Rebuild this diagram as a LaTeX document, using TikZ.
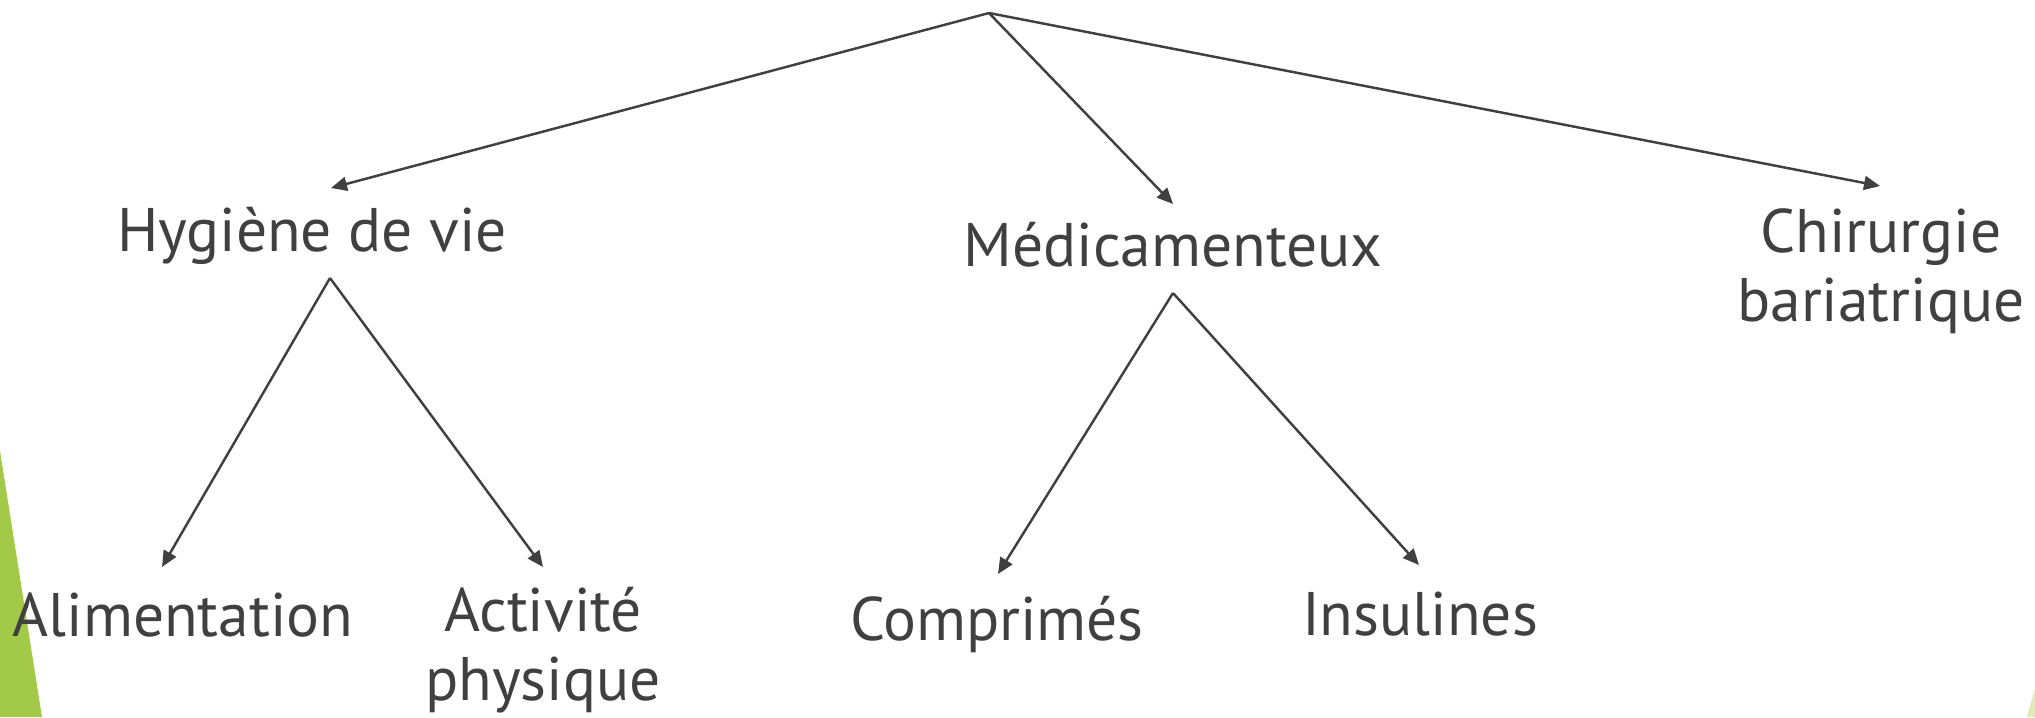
\documentclass[tikz,border=0pt]{standalone}
\usepackage{fontspec}
\setmainfont{PT Sans}
\usepackage{xcolor}
\usetikzlibrary{arrows.meta,positioning}
\definecolor{txtgray}{HTML}{404040}
\definecolor{leafgreen}{HTML}{A2C948}
\definecolor{palegreen}{HTML}{DDEBB7}
\tikzset{
  label/.style={text=txtgray, font=\fontsize{17.5}{19.6}\selectfont, align=center, inner sep=0pt},
  branch/.style={draw=txtgray, line width=0.7pt, -{Triangle[length=1.6mm,width=1.4mm]}}
}
\begin{document}
\begin{tikzpicture}[x=0.01cm,y=-0.01cm]
        \useasboundingbox (0,0) rectangle (2035,717);
        % Green corners
        \fill[leafgreen] (0,451) -- (42,717) -- (0,717) -- cycle;
        \fill[palegreen] (2035,688) -- (2035,717) -- (2027,717) -- cycle;

        % Forks and arrow ends
        \coordinate (root) at (989,13);
        \coordinate (hygfork) at (330,278);
        \coordinate (medfork) at (1173,293);
        \coordinate (hygtip) at (331,188);
        \coordinate (medtip) at (1173,204);
        \coordinate (chirtip) at (1880,186);
        \coordinate (alimtip) at (162,567);
        \coordinate (acttip) at (543,567);
        \coordinate (comptip) at (998,574);
        \coordinate (insultip) at (1419,565);

        % Labels
        \node[label] (hyg) at (312,236) {Hygiène de vie};
        \node[label] (med) at (1173,245) {Médicamenteux};
        \node[label] (chir) at (1881,271) {Chirurgie\\bariatrique};
        \node[label] (alim) at (183,615) {Alimentation};
        \node[label] (act) at (543,650) {Activité\\physique};
        \node[label] (comp) at (997,624) {Comprimés};
        \node[label] (insul) at (1420,614) {Insulines};

        % Branches
        \draw[branch] (root) -- (hygtip);
        \draw[branch] (root) -- (medtip);
        \draw[branch] (root) -- (chirtip);
        \draw[branch] (hygfork) -- (alimtip);
        \draw[branch] (hygfork) -- (acttip);
        \draw[branch] (medfork) -- (comptip);
        \draw[branch] (medfork) -- (insultip);
\end{tikzpicture}
\end{document}
